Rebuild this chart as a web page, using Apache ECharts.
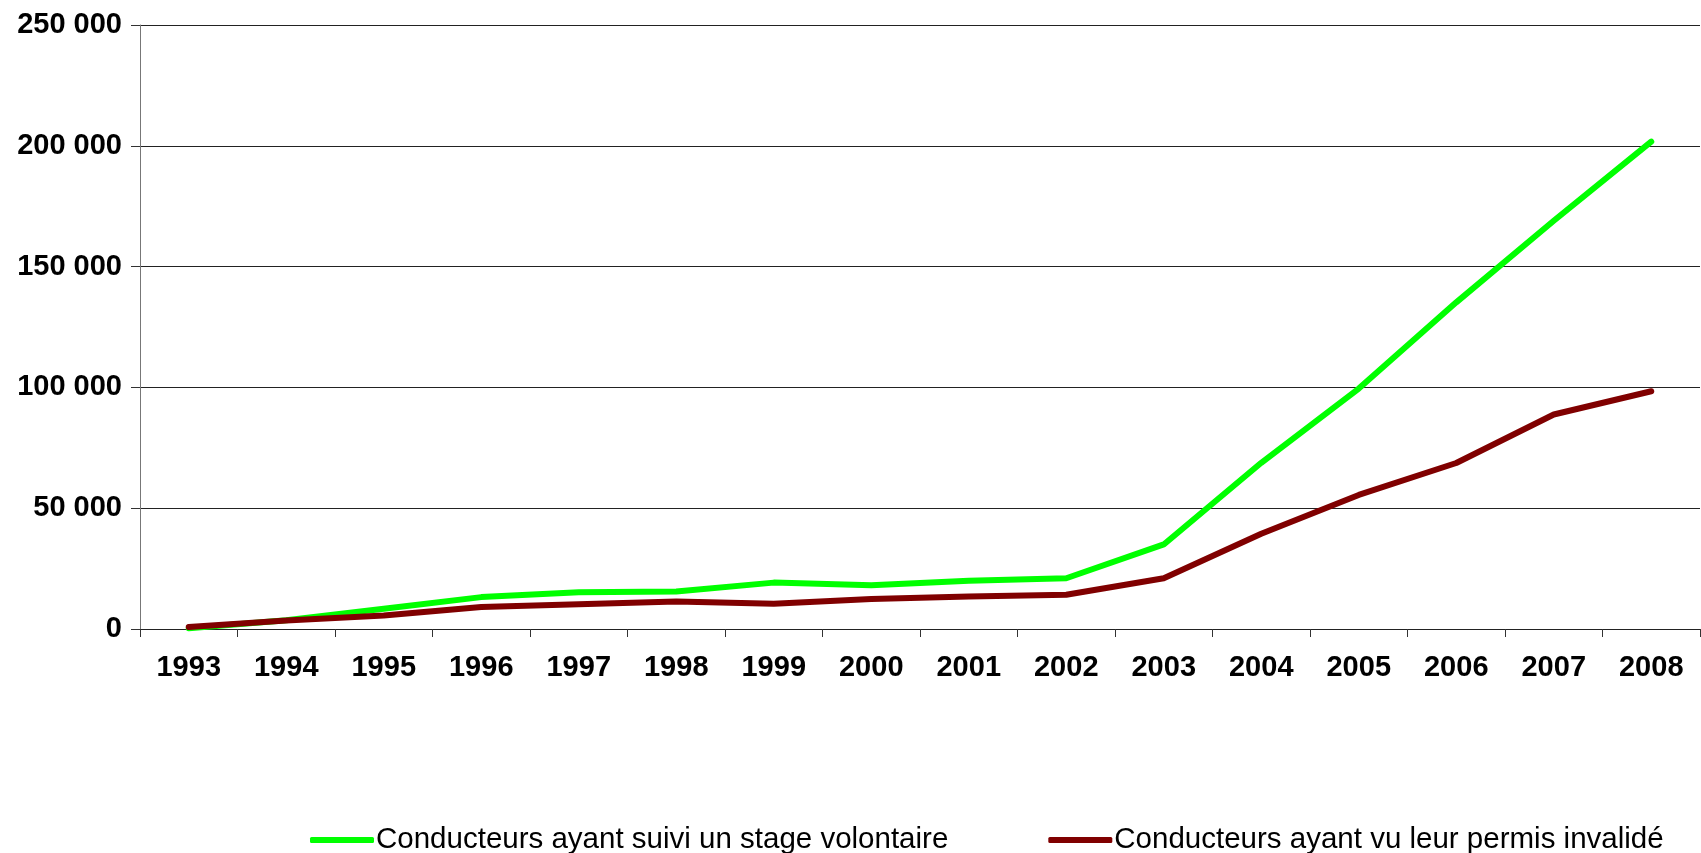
<!DOCTYPE html>
<html>
<head>
<meta charset="utf-8">
<script src="https://cdn.jsdelivr.net/npm/echarts@6/dist/echarts.min.js"></script>
<style>
  html, body { margin: 0; padding: 0; background: #fff; }
  #chart { width: 1701px; height: 853px; }
</style>
</head>
<body>
<div id="chart"></div>
<script>
const years = ['1993', '1994', '1995', '1996', '1997', '1998', '1999', '2000',
    '2001', '2002', '2003', '2004', '2005', '2006', '2007', '2008'];

const stageVolontaire = [300, 3600, 8400, 13200, 15200, 15500, 19200, 18100,
    20000, 21000, 35000, 68800, 99500, 135200, 169000, 201700];

const permisInvalide = [800, 3500, 5600, 9100, 10200, 11400, 10500, 12400,
    13500, 14200, 21000, 39400, 55500, 68700, 88800, 98400];

const seriesNames = ['Conducteurs ayant suivi un stage volontaire',
    'Conducteurs ayant vu leur permis invalidé'];

const chartDom = document.getElementById('chart');
const myChart = echarts.init(chartDom);

const fontFamily = '"Liberation Sans", Arial, sans-serif';

const option = {
    animation: false,
    grid: {
        left: 140,
        right: 1,
        top: 25,
        bottom: 224,
    },
    legend: {
        left: 305,
        top: 820,
        icon: 'roundRect',
        itemWidth: 64,
        itemHeight: 6,
        itemGap: 100,
        textStyle: {
            fontFamily: fontFamily,
            fontSize: 29.5,
            color: '#000',
            padding: [0, 0, 0, -3],
        },
        data: seriesNames,
    },
    xAxis: {
        type: 'category',
        data: years,
        boundaryGap: true,
        axisLine: { lineStyle: { color: '#222', width: 1 } },
        axisTick: { show: true, length: 8, lineStyle: { color: '#333' } },
        axisLabel: {
            margin: 24,
            fontFamily: fontFamily,
            fontWeight: 'bold',
            fontSize: 29,
            color: '#000',
        },
    },
    yAxis: {
        type: 'value',
        min: 0,
        max: 250000,
        interval: 50000,
        axisLine: { show: true, lineStyle: { color: '#777', width: 1 } },
        axisTick: { show: true, length: 9, lineStyle: { color: '#333' } },
        splitLine: { lineStyle: { color: '#222', width: 1 } },
        axisLabel: {
            margin: 18,
            fontFamily: fontFamily,
            fontWeight: 'bold',
            fontSize: 29,
            color: '#000',
            formatter: (v) => String(v).replace(/\B(?=(\d{3})+(?!\d))/g, ' '),
        },
    },
    series: [
        {
            name: seriesNames[0],
            type: 'line',
            data: stageVolontaire,
            showSymbol: false,
            symbol: 'none',
            color: '#00ff00',
            lineStyle: { width: 6, color: '#00ff00', cap: 'round', join: 'round' },
        },
        {
            name: seriesNames[1],
            type: 'line',
            data: permisInvalide,
            showSymbol: false,
            symbol: 'none',
            color: '#800000',
            lineStyle: { width: 6, color: '#800000', cap: 'round', join: 'round' },
        },
    ],
};

myChart.setOption(option);
</script>
</body>
</html>
